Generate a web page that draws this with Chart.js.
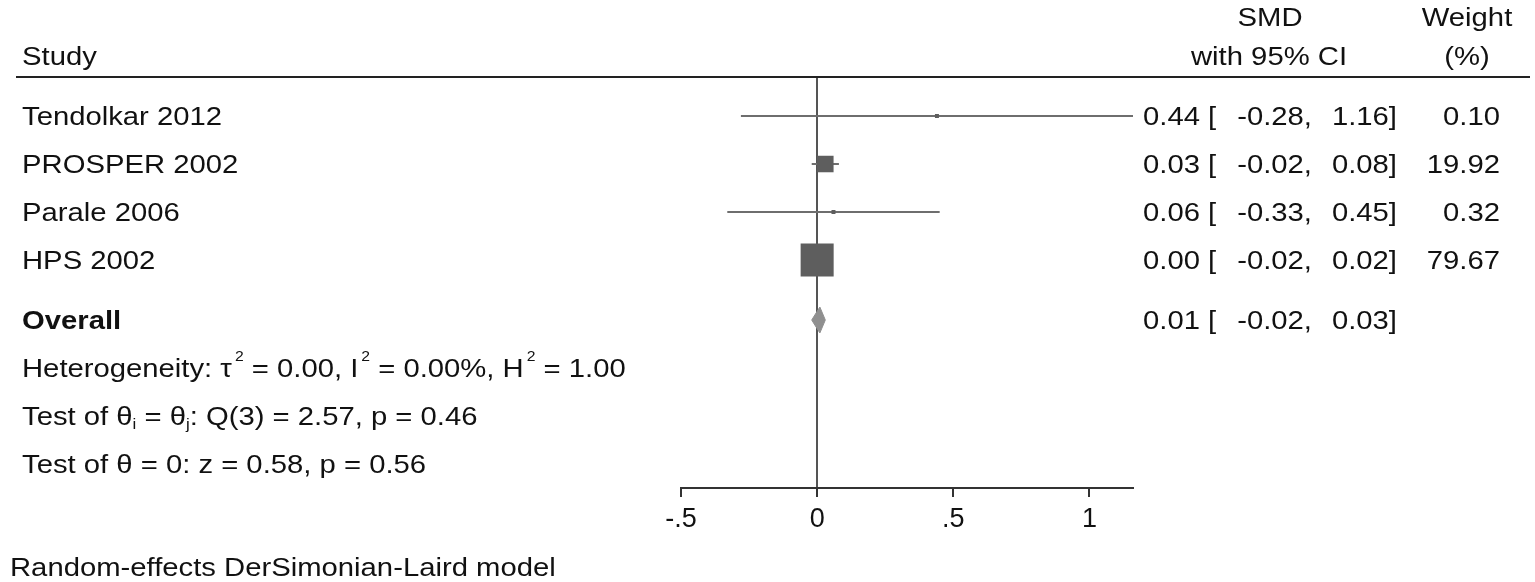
<!DOCTYPE html>
<html>
<head>
<meta charset="utf-8">
<script src="https://cdn.jsdelivr.net/npm/chart.js@4.4.1/dist/chart.umd.min.js"></script>
<style>
html,body{margin:0;padding:0;background:#fff;}
#wrap{width:1535px;height:582px;position:relative;}
</style>
</head>
<body>
<div id="wrap"><canvas id="c"></canvas></div>
<script>
// ---- data ----
const studies = ['Tendolkar 2012', 'PROSPER 2002', 'Parale 2006', 'HPS 2002'];
const smd = [0.44, 0.03, 0.06, 0.00];
const ciLow = [-0.28, -0.02, -0.33, -0.02];
const ciHigh = [1.16, 0.08, 0.45, 0.02];
const weights = [0.10, 19.92, 0.32, 79.67];
const overallSMD = 0.01;
const overallLow = -0.02;
const overallHigh = 0.03;
const xTickValues = [-0.5, 0, 0.5, 1];
const xTickLabels = ['-.5', '0', '.5', '1'];
const heterogeneity = ['0.00', '0.00%', '1.00']; // tau2, I2, H2
const qTest = ['3', '2.57', '0.46'];            // df, Q, p
const zTest = ['0.58', '0.56'];                 // z, p

// ---- layout helpers ----
const rowPos = studies.map((s, i) => i + 1);
const overallPos = 5.25;
const statPos = [6.25, 7.25, 8.25];
const SX = 1.125;
const FONT = '"Liberation Sans", Arial, sans-serif';
const TXT = '#111';

function drawText(ctx, s, x, y, align, size, weight) {
  ctx.save();
  ctx.font = (weight || 'normal') + ' ' + (size || 26) + 'px ' + FONT;
  ctx.fillStyle = TXT;
  ctx.textBaseline = 'alphabetic';
  ctx.textAlign = align || 'left';
  ctx.translate(x, y);
  ctx.scale(SX, 1);
  ctx.fillText(s, 0, 0);
  ctx.restore();
}
function textW(ctx, s, size) {
  ctx.save();
  ctx.font = 'normal ' + size + 'px ' + FONT;
  const w = ctx.measureText(s).width * SX;
  ctx.restore();
  return w;
}
function drawRich(ctx, segs, x, y) {
  let cx = x;
  segs.forEach(sg => {
    const size = sg.sup ? 14 : (sg.sub ? 15 : 26);
    const dy = sg.sup ? -16 : (sg.sub ? 4 : 0);
    const gap = sg.sup ? 3 : 0;
    drawText(ctx, sg.t, cx + gap, y + dy, 'left', size);
    cx += textW(ctx, sg.t, size) + gap;
  });
}

const textPlugin = {
  id: 'forestText',
  afterDraw(chart) {
    const ctx = chart.ctx;
    const ys = chart.scales.y;
    // header
    drawText(ctx, 'Study', 22, 65);
    drawText(ctx, 'SMD', 1270, 26, 'center');
    drawText(ctx, 'with 95% CI', 1269, 65, 'center');
    drawText(ctx, 'Weight', 1467, 26, 'center');
    drawText(ctx, '(%)', 1467, 65, 'center');
    ctx.save();
    ctx.strokeStyle = '#222';
    ctx.lineWidth = 2;
    ctx.beginPath();
    ctx.moveTo(16, 77);
    ctx.lineTo(1530, 77);
    ctx.stroke();
    ctx.restore();
    // study rows
    studies.forEach((s, i) => {
      const b = ys.getPixelForValue(rowPos[i]) + 9;
      drawText(ctx, s, 22, b);
      drawText(ctx, smd[i].toFixed(2) + ' [', 1143, b);
      drawText(ctx, ciLow[i].toFixed(2) + ',', 1312, b, 'right');
      drawText(ctx, ciHigh[i].toFixed(2) + ']', 1397, b, 'right');
      drawText(ctx, weights[i].toFixed(2), 1500, b, 'right');
    });
    // overall
    const ob = ys.getPixelForValue(overallPos) + 9;
    drawText(ctx, 'Overall', 22, ob, 'left', 26, 'bold');
    drawText(ctx, overallSMD.toFixed(2) + ' [', 1143, ob);
    drawText(ctx, overallLow.toFixed(2) + ',', 1312, ob, 'right');
    drawText(ctx, overallHigh.toFixed(2) + ']', 1397, ob, 'right');
    // stats
    const s1 = ys.getPixelForValue(statPos[0]) + 9;
    drawRich(ctx, [
      {t: 'Heterogeneity: \u03C4'}, {t: '2', sup: true},
      {t: ' = ' + heterogeneity[0] + ', I'}, {t: '2', sup: true},
      {t: ' = ' + heterogeneity[1] + ', H'}, {t: '2', sup: true},
      {t: ' = ' + heterogeneity[2]}
    ], 22, s1);
    const s2 = ys.getPixelForValue(statPos[1]) + 9;
    drawRich(ctx, [
      {t: 'Test of \u03B8'}, {t: 'i', sub: true},
      {t: ' = \u03B8'}, {t: 'j', sub: true},
      {t: ': Q(' + qTest[0] + ') = ' + qTest[1] + ', p = ' + qTest[2]}
    ], 22, s2);
    const s3 = ys.getPixelForValue(statPos[2]) + 9;
    drawText(ctx, 'Test of \u03B8 = 0: z = ' + zTest[0] + ', p = ' + zTest[1], 22, s3);
    // footnote
    drawText(ctx, 'Random-effects DerSimonian-Laird model', 10, 576);
  }
};

// ---- datasets ----
const datasets = [];
// squares
datasets.push({
  type: 'scatter',
  data: smd.map((v, i) => ({x: v, y: rowPos[i]})),
  pointStyle: 'rect',
  pointRadius: (c) => Math.max(3.7 * Math.sqrt(weights[c.dataIndex]), 4) / Math.SQRT2,
  pointHoverRadius: (c) => Math.max(3.7 * Math.sqrt(weights[c.dataIndex]), 4) / Math.SQRT2,
  backgroundColor: '#5e5e5e',
  borderWidth: 0,
  order: 0
});
// CI lines
studies.forEach((s, i) => {
  datasets.push({
    type: 'line',
    data: [{x: ciLow[i], y: rowPos[i]}, {x: ciHigh[i], y: rowPos[i]}],
    borderColor: '#6e6e6e',
    borderWidth: 2,
    pointRadius: 0,
    fill: false,
    order: 1
  });
});
// overall diamond (upper half filled to lower half)
const dh = 0.27;
datasets.push({
  type: 'line',
  data: [{x: overallLow, y: overallPos}, {x: overallSMD, y: overallPos + dh}, {x: overallHigh, y: overallPos}],
  borderColor: '#8f8f8f',
  borderWidth: 1,
  pointRadius: 0,
  fill: false,
  order: 2
});
datasets.push({
  type: 'line',
  data: [{x: overallLow, y: overallPos}, {x: overallSMD, y: overallPos - dh}, {x: overallHigh, y: overallPos}],
  borderColor: '#8f8f8f',
  backgroundColor: '#8f8f8f',
  borderWidth: 1,
  pointRadius: 0,
  fill: '-1',
  order: 2
});

new Chart(document.getElementById('c'), {
  data: {datasets},
  options: {
    responsive: true,
    maintainAspectRatio: false,
    animation: false,
    events: [],
    layout: {padding: {left: 681, right: 402, top: 78, bottom: 0}},
    plugins: {legend: {display: false}, tooltip: {enabled: false}, title: {display: false}},
    scales: {
      x: {
        type: 'linear',
        min: -0.5,
        max: 1.16,
        afterBuildTicks: (scale) => { scale.ticks = xTickValues.map(v => ({value: v})); },
        afterFit: (scale) => { scale.height = 94; },
        ticks: {
          callback: (v) => { const k = xTickValues.indexOf(v); return k >= 0 ? xTickLabels[k] : ''; },
          font: {family: FONT, size: 27},
          color: TXT,
          padding: 6,
          maxRotation: 0,
          autoSkip: false
        },
        grid: {
          color: (c) => (c.tick && c.tick.value === 0) ? '#555555' : 'rgba(0,0,0,0)',
          lineWidth: 2,
          drawTicks: true,
          tickLength: 9,
          tickColor: '#333',
          tickWidth: 2
        },
        border: {display: true, color: '#333', width: 2}
      },
      y: {
        type: 'linear',
        reverse: true,
        min: 0.208,
        max: 8.75,
        display: false
      }
    }
  },
  plugins: [textPlugin]
});
</script>
</body>
</html>
